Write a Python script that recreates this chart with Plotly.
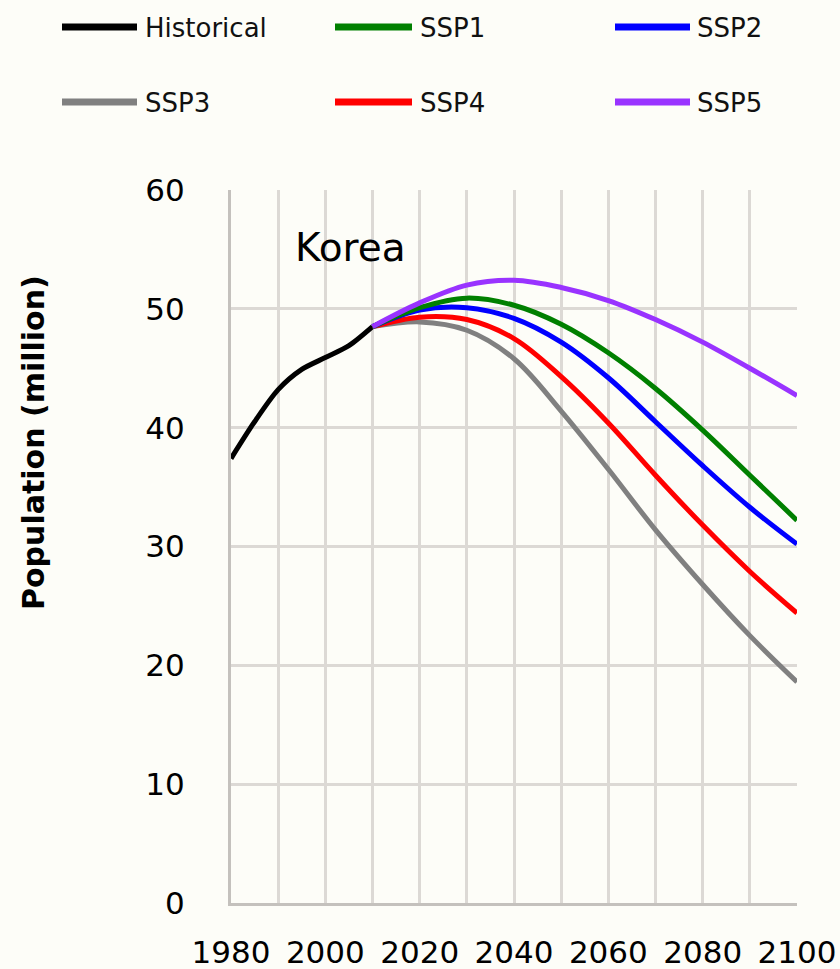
import plotly.graph_objects as go

# ---- data ----
hist_years = [1980, 1985, 1990, 1995, 2000, 2005, 2010]
hist_pop = [37.4, 40.5, 43.2, 44.9, 45.9, 46.9, 48.5]

ssp_years = [2010, 2020, 2030, 2040, 2050, 2060, 2070, 2080, 2090, 2100]
ssp1 = [48.5, 50.1, 50.9, 50.3, 48.7, 46.3, 43.3, 39.8, 36.0, 32.2]
ssp2 = [48.5, 49.9, 50.1, 49.2, 47.2, 44.2, 40.5, 36.8, 33.3, 30.2]
ssp3 = [48.5, 48.9, 48.2, 45.8, 41.4, 36.5, 31.4, 26.8, 22.5, 18.6]
ssp4 = [48.5, 49.3, 49.1, 47.5, 44.3, 40.4, 36.0, 31.8, 27.9, 24.4]
ssp5 = [48.5, 50.5, 52.0, 52.4, 51.8, 50.7, 49.1, 47.2, 45.0, 42.7]

series_names = ["Historical", "SSP1", "SSP2", "SSP3", "SSP4", "SSP5"]
series_colors = ["#000000", "#008000", "#0000FF", "#808080", "#FF0000", "#9933FF"]

x_tick_vals = list(range(1980, 2101, 10))
x_tick_text = [str(v) if (v - 1980) % 20 == 0 else "" for v in x_tick_vals]
y_tick_vals = [0, 10, 20, 30, 40, 50, 60]

# ---- layout geometry (pixels) ----
W, H = 840, 969
L, R, T, B = 231, 43, 190, 66
PW, PH = W - L - R, H - T - B

def px_x(p):
    return (p - L) / PW

def px_y(p):
    return (H - B - p) / PH

fig = go.Figure()

series_data = {"SSP1": ssp1, "SSP2": ssp2, "SSP3": ssp3, "SSP4": ssp4, "SSP5": ssp5}
color_of = dict(zip(series_names, series_colors))

fig.add_trace(go.Scatter(x=hist_years, y=hist_pop, mode="lines", name="Historical",
                         line=dict(color=color_of["Historical"], width=5, shape="spline", smoothing=0.8),
                         showlegend=False))
for nm in ["SSP3", "SSP4", "SSP2", "SSP1", "SSP5"]:
    fig.add_trace(go.Scatter(x=ssp_years, y=series_data[nm], mode="lines", name=nm,
                             line=dict(color=color_of[nm], width=5, shape="spline", smoothing=1.0),
                             showlegend=False))

# ---- manual legend (2 rows x 3 columns) ----
legend_cols = [(62, 137, 143), (335, 412, 418), (615, 690, 695)]
legend_rows = [27, 102]
shapes = []
annotations = []
for i, nm in enumerate(series_names):
    r, c = divmod(i, 3)
    x0, x1, xt = legend_cols[c]
    yy = legend_rows[r]
    shapes.append(dict(type="line", xref="paper", yref="paper",
                       x0=px_x(x0), x1=px_x(x1), y0=px_y(yy), y1=px_y(yy),
                       line=dict(color=series_colors[i], width=7)))
    annotations.append(dict(xref="paper", yref="paper", x=px_x(xt), y=px_y(yy + 1),
                            text=nm, showarrow=False, xanchor="left", yanchor="middle",
                            font=dict(family="DejaVu Sans", size=26, color="#111111")))

annotations.append(dict(xref="x", yref="y", x=2005.3, y=55.2, text="Korea",
                        showarrow=False, xanchor="center", yanchor="middle",
                        font=dict(family="DejaVu Sans", size=39, color="#000000")))

annotations.append(dict(xref="paper", yref="paper", x=px_x(33), y=px_y(443),
                        text="Population (million)", textangle=-90,
                        showarrow=False, xanchor="center", yanchor="middle",
                        font=dict(family="DejaVu Sans", size=30, color="#000000", weight="bold")))

fig.update_layout(
    width=W, height=H,
    margin=dict(l=L, r=R, t=T, b=B, pad=0, autoexpand=False),
    paper_bgcolor="#FDFDF8", plot_bgcolor="#FDFDF8",
    showlegend=False,
    shapes=shapes, annotations=annotations,
    xaxis=dict(range=[1980, 2100], tickmode="array", tickvals=x_tick_vals, ticktext=x_tick_text,
               showgrid=True, gridcolor="#DCD9D5", gridwidth=3, automargin=False,
               showline=True, linecolor="#C4C1BD", linewidth=3, zeroline=False,
               ticks="", ticklabelstandoff=20,
               tickfont=dict(family="DejaVu Sans", size=31, color="#000000")),
    yaxis=dict(range=[0, 60], tickmode="array", tickvals=y_tick_vals,
               showgrid=True, gridcolor="#DCD9D5", gridwidth=3, automargin=False,
               showline=True, linecolor="#C4C1BD", linewidth=3, zeroline=False,
               ticks="", ticklabelstandoff=37,
               tickfont=dict(family="DejaVu Sans", size=31, color="#000000")),
)

fig.write_html("out.html", config={"displayModeBar": False},
               post_script="document.body.style.margin='0';document.body.style.overflow='hidden';")
